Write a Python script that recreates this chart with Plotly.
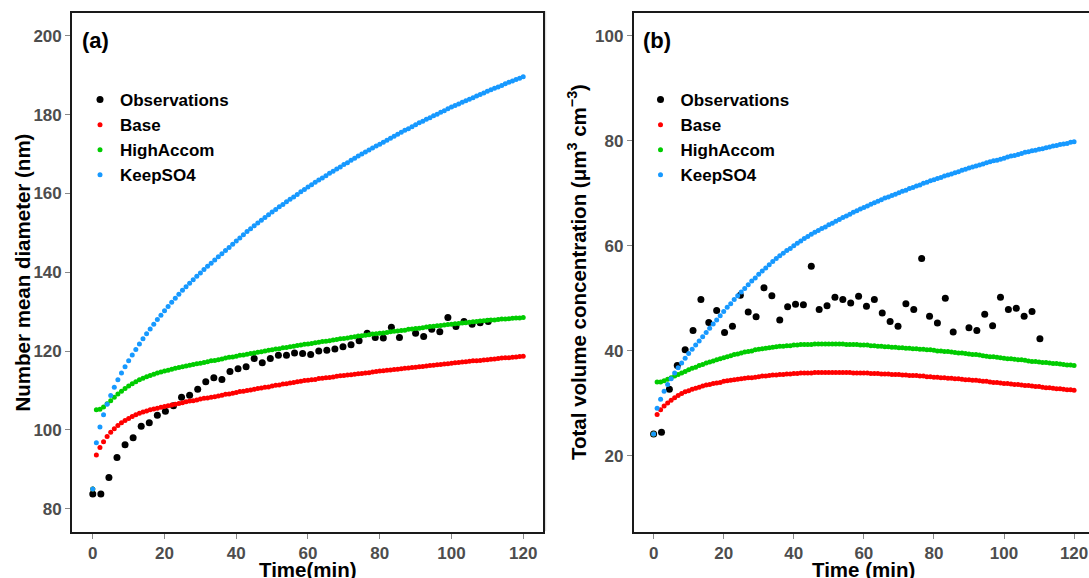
import plotly.graph_objects as go

W, H = 1089, 578

# ---------------- data ----------------
model_time = list(range(0, 121))
obs_time = [0, 2.25, 4.5, 6.75, 9, 11.25, 13.5, 15.75, 18, 20.25,
            22.5, 24.75, 27, 29.25, 31.5, 33.75, 36, 38.25, 40.5, 42.75,
            45, 47.25, 49.5, 51.75, 54, 56.25, 58.5, 60.75, 63, 65.25,
            67.5, 69.75, 72, 74.25, 76.5, 78.75, 81, 83.25, 85.5, 87.75,
            90, 92.25, 94.5, 96.75, 99, 101.25, 103.5, 105.75, 108, 110.25]

# panel (a): number mean diameter (nm)
obs_a = [83.7, 83.7, 87.9, 93.0, 96.2, 98.0, 100.9, 101.8, 103.7, 104.7,
         106.1, 108.3, 108.8, 110.3, 112.2, 113.2, 112.8, 114.8, 115.5, 116.0,
         118.1, 117.0, 118.1, 118.9, 118.9, 119.5, 119.4, 119.1, 120.0, 120.2,
         120.5, 121.1, 121.6, 122.6, 124.5, 123.4, 123.3, 126.0, 123.4, None,
         124.5, 123.7, 125.5, 124.9, 128.5, 126.2, 127.5, 126.8, 127.2, 127.5]

base_a = [85.0, 93.6, 95.5, 97.0, 98.3, 99.4, 100.3, 101.1, 101.8, 102.4,
          102.9, 103.4, 103.8, 104.2, 104.5, 104.8, 105.1, 105.3, 105.5, 105.7,
          105.9, 106.1, 106.3, 106.5, 106.7, 106.9, 107.1, 107.3, 107.4, 107.6,
          107.8, 108.0, 108.1, 108.3, 108.4, 108.6, 108.8, 109.0, 109.1, 109.3,
          109.5, 109.7, 109.8, 110.0, 110.1, 110.3, 110.5, 110.6, 110.8, 110.9,
          111.1, 111.3, 111.4, 111.6, 111.7, 111.9, 112.0, 112.2, 112.3, 112.5,
          112.6, 112.7, 112.8, 113.0, 113.1, 113.2, 113.3, 113.4, 113.6, 113.7,
          113.8, 113.9, 114.0, 114.1, 114.2, 114.3, 114.4, 114.5, 114.7, 114.8,
          114.9, 115.0, 115.1, 115.2, 115.3, 115.4, 115.5, 115.6, 115.7, 115.8,
          115.9, 116.0, 116.1, 116.2, 116.3, 116.4, 116.5, 116.6, 116.7, 116.8,
          116.9, 117.0, 117.1, 117.2, 117.3, 117.4, 117.5, 117.5, 117.6, 117.7,
          117.8, 117.9, 118.0, 118.1, 118.2, 118.3, 118.3, 118.4, 118.5, 118.6,
          118.7]

highaccom_a = [85.0, 105.1, 105.2, 105.8, 106.6, 107.4, 108.3, 109.1, 109.8, 110.5,
               111.1, 111.7, 112.2, 112.7, 113.1, 113.5, 113.8, 114.1, 114.4, 114.7,
               114.9, 115.1, 115.4, 115.6, 115.8, 116.0, 116.2, 116.4, 116.6, 116.8,
               116.9, 117.1, 117.3, 117.5, 117.6, 117.8, 118.0, 118.2, 118.4, 118.5,
               118.7, 118.9, 119.0, 119.2, 119.4, 119.5, 119.7, 119.8, 120.0, 120.2,
               120.3, 120.5, 120.6, 120.8, 120.9, 121.1, 121.2, 121.4, 121.5, 121.7,
               121.8, 121.9, 122.1, 122.2, 122.4, 122.5, 122.6, 122.8, 122.9, 123.1,
               123.2, 123.3, 123.5, 123.6, 123.8, 123.9, 124.0, 124.1, 124.3, 124.4,
               124.5, 124.6, 124.7, 124.9, 125.0, 125.1, 125.2, 125.3, 125.5, 125.6,
               125.7, 125.8, 125.9, 126.1, 126.2, 126.3, 126.4, 126.5, 126.6, 126.7,
               126.8, 126.9, 127.0, 127.1, 127.2, 127.3, 127.4, 127.5, 127.6, 127.7,
               127.8, 127.9, 127.9, 128.0, 128.1, 128.1, 128.2, 128.3, 128.4, 128.4,
               128.5]

keepso4_a = [85.0, 96.7, 100.7, 103.8, 106.5, 108.7, 110.8, 112.7, 114.4, 116.0,
             117.5, 119.0, 120.4, 121.8, 123.1, 124.4, 125.6, 126.8, 128.0, 129.1,
             130.2, 131.3, 132.4, 133.4, 134.4, 135.4, 136.3, 137.2, 138.1, 139.0,
             139.8, 140.7, 141.5, 142.3, 143.1, 143.9, 144.7, 145.5, 146.3, 147.1,
             147.9, 148.7, 149.5, 150.3, 151.0, 151.8, 152.5, 153.2, 153.9, 154.6,
             155.3, 155.9, 156.6, 157.2, 157.9, 158.5, 159.1, 159.7, 160.4, 161.0,
             161.6, 162.2, 162.8, 163.4, 163.9, 164.5, 165.1, 165.6, 166.2, 166.7,
             167.3, 167.8, 168.4, 168.9, 169.5, 170.0, 170.5, 171.0, 171.5, 172.0,
             172.5, 173.0, 173.5, 174.0, 174.5, 175.0, 175.5, 176.0, 176.4, 176.9,
             177.4, 177.9, 178.3, 178.8, 179.2, 179.7, 180.1, 180.6, 181.0, 181.5,
             181.9, 182.3, 182.7, 183.1, 183.5, 183.9, 184.3, 184.7, 185.1, 185.5,
             185.9, 186.3, 186.7, 187.0, 187.4, 187.8, 188.2, 188.5, 188.9, 189.2,
             189.6]

# panel (b): total volume concentration (um3 cm-3)
obs_b = [24.2, 24.5, 32.7, 37.2, 40.2, 43.9, 49.8, 45.4, 47.7, 43.5,
         44.7, 50.6, 47.4, 46.5, 52.0, 50.5, 45.9, 48.4, 48.9, 48.8,
         56.1, 47.9, 48.6, 50.2, 49.8, 49.1, 50.4, 48.5, 49.8, 47.2,
         45.6, 44.7, 49.0, 47.9, 57.6, 46.6, 45.3, 50.0, 43.6, None,
         44.4, 43.9, 47.0, 44.8, 50.2, 47.9, 48.1, 46.6, 47.5, 42.3]

base_b = [24.2, 27.9, 28.8, 29.5, 30.1, 30.6, 31.1, 31.5, 31.9, 32.2,
          32.4, 32.7, 32.9, 33.1, 33.3, 33.5, 33.6, 33.8, 33.9, 34.0,
          34.2, 34.3, 34.4, 34.5, 34.6, 34.7, 34.8, 34.9, 34.9, 35.0,
          35.1, 35.2, 35.2, 35.3, 35.4, 35.4, 35.5, 35.5, 35.6, 35.6,
          35.7, 35.7, 35.8, 35.8, 35.8, 35.8, 35.9, 35.9, 35.9, 35.9,
          35.9, 35.9, 35.9, 35.9, 35.9, 35.9, 35.9, 35.8, 35.8, 35.8,
          35.8, 35.8, 35.7, 35.7, 35.7, 35.6, 35.6, 35.6, 35.5, 35.5,
          35.5, 35.4, 35.4, 35.3, 35.3, 35.3, 35.2, 35.2, 35.1, 35.1,
          35.0, 35.0, 34.9, 34.9, 34.8, 34.8, 34.7, 34.7, 34.6, 34.5,
          34.5, 34.4, 34.4, 34.3, 34.2, 34.2, 34.1, 34.0, 34.0, 33.9,
          33.8, 33.8, 33.7, 33.6, 33.6, 33.5, 33.4, 33.4, 33.3, 33.2,
          33.2, 33.1, 33.0, 33.0, 32.9, 32.8, 32.8, 32.7, 32.6, 32.6,
          32.5]

highaccom_b = [24.2, 34.1, 34.1, 34.3, 34.6, 34.9, 35.2, 35.5, 35.8, 36.1,
               36.4, 36.7, 36.9, 37.2, 37.4, 37.7, 37.9, 38.1, 38.3, 38.5,
               38.7, 38.9, 39.1, 39.3, 39.4, 39.6, 39.8, 39.9, 40.0, 40.2,
               40.3, 40.4, 40.5, 40.6, 40.7, 40.8, 40.9, 40.9, 41.0, 41.0,
               41.1, 41.1, 41.2, 41.2, 41.2, 41.2, 41.3, 41.3, 41.3, 41.3,
               41.3, 41.3, 41.3, 41.3, 41.3, 41.2, 41.2, 41.2, 41.2, 41.1,
               41.1, 41.1, 41.0, 41.0, 40.9, 40.9, 40.8, 40.8, 40.7, 40.7,
               40.6, 40.6, 40.5, 40.5, 40.4, 40.4, 40.3, 40.3, 40.2, 40.2,
               40.1, 40.0, 40.0, 39.9, 39.9, 39.8, 39.7, 39.6, 39.6, 39.5,
               39.4, 39.3, 39.3, 39.2, 39.1, 39.0, 38.9, 38.9, 38.8, 38.7,
               38.6, 38.5, 38.5, 38.4, 38.3, 38.3, 38.2, 38.1, 38.0, 38.0,
               37.9, 37.8, 37.8, 37.7, 37.6, 37.6, 37.5, 37.4, 37.3, 37.3,
               37.2]

keepso4_b = [24.2, 29.1, 30.8, 32.3, 33.6, 34.7, 35.8, 36.8, 37.7, 38.6,
             39.5, 40.3, 41.1, 41.9, 42.7, 43.5, 44.3, 45.1, 45.9, 46.7,
             47.5, 48.3, 49.0, 49.8, 50.5, 51.2, 51.9, 52.6, 53.3, 53.9,
             54.6, 55.2, 55.8, 56.4, 57.0, 57.6, 58.1, 58.6, 59.1, 59.5,
             60.0, 60.5, 60.9, 61.4, 61.8, 62.2, 62.6, 62.9, 63.3, 63.6,
             64.0, 64.3, 64.7, 65.0, 65.4, 65.7, 66.0, 66.4, 66.7, 67.0,
             67.3, 67.6, 67.9, 68.2, 68.5, 68.8, 69.1, 69.3, 69.6, 69.8,
             70.1, 70.4, 70.6, 70.9, 71.1, 71.4, 71.6, 71.9, 72.1, 72.4,
             72.6, 72.8, 73.0, 73.3, 73.5, 73.7, 73.9, 74.1, 74.4, 74.6,
             74.8, 75.0, 75.2, 75.4, 75.6, 75.8, 76.0, 76.2, 76.3, 76.5,
             76.7, 76.9, 77.1, 77.2, 77.4, 77.6, 77.8, 77.9, 78.1, 78.2,
             78.4, 78.5, 78.7, 78.8, 79.0, 79.1, 79.3, 79.4, 79.5, 79.7,
             79.8]

series_names = ["Observations", "Base", "HighAccom", "KeepSO4"]
x_ticks = [0, 20, 40, 60, 80, 100, 120]
y_ticks_a = [80, 100, 120, 140, 160, 180, 200]
y_ticks_b = [20, 40, 60, 80, 100]

for s in (base_a, highaccom_a, keepso4_a, base_b, highaccom_b, keepso4_b):
    assert len(s) == len(model_time), len(s)
assert len(obs_a) == len(obs_time) and len(obs_b) == len(obs_time)

# ---------------- style ----------------
FONT = "Liberation Sans, Arial, sans-serif"
colors = {"Observations": "#000000", "Base": "#ff0000",
          "HighAccom": "#00cc00", "KeepSO4": "#1799ff"}
sizes = {"Observations": 7, "Base": 5, "HighAccom": 5, "KeepSO4": 5}

def px_x(p):
    return p / W

def px_y(p):
    return 1 - p / H

fig = go.Figure()

panels = [
    ("x", "y", "legend", [obs_a, base_a, highaccom_a, keepso4_a]),
    ("x2", "y2", "legend2", [obs_b, base_b, highaccom_b, keepso4_b]),
]
for xa, ya, lg, data in panels:
    for name, vals in zip(series_names, data):
        xs = obs_time if name == "Observations" else model_time
        fig.add_trace(go.Scatter(
            x=xs, y=vals, mode="markers", name=name,
            marker=dict(color=colors[name], size=sizes[name], line=dict(width=0)),
            xaxis=xa, yaxis=ya, legend=lg, showlegend=True,
        ))

tickfont = dict(family=FONT, size=17, color="#4d4d4d", weight="bold")
common_axis = dict(showgrid=False, zeroline=False, showline=True,
                   linecolor="#1a1a1a", linewidth=1.5,
                   ticks="outside", ticklen=5, tickwidth=1, tickcolor="#888888",
                   tickfont=tickfont, automargin=False)

yd = [px_y(531.9), px_y(12.9)]
legend_font = dict(family=FONT, size=17, color="#000000", weight="bold")
fig.update_layout(
    width=W, height=H, autosize=False,
    margin=dict(l=0, r=0, t=0, b=0),
    paper_bgcolor="white", plot_bgcolor="white",
    xaxis=dict(domain=[px_x(71.9), px_x(543.3)], range=[-5.82, 125.6],
               tickvals=x_ticks, mirror=True, anchor="y", **common_axis),
    yaxis=dict(domain=yd, range=[74.1, 205.8], tickvals=y_ticks_a,
               mirror=True, anchor="x", **common_axis),
    xaxis2=dict(domain=[px_x(633.5), 1.0], range=[-5.74, 124.26],
                tickvals=x_ticks, mirror=True, anchor="y2", **common_axis),
    yaxis2=dict(domain=yd, range=[5.54, 104.35], tickvals=y_ticks_b,
                mirror=False, anchor="x2", **common_axis),
    legend=dict(x=px_x(80), y=px_y(82), xanchor="left", yanchor="top",
                bgcolor="rgba(0,0,0,0)", borderwidth=0, font=legend_font),
    legend2=dict(x=px_x(640.5), y=px_y(82), xanchor="left", yanchor="top",
                 bgcolor="rgba(0,0,0,0)", borderwidth=0, font=legend_font),
    showlegend=True,
)

title_font = dict(family=FONT, size=20.5, color="#000000", weight="bold")
annotations = [
    dict(text="(a)", x=px_x(95.5), y=px_y(40.5), font=dict(family=FONT, size=22, color="#000", weight="bold")),
    dict(text="(b)", x=px_x(657.3), y=px_y(40.5), font=dict(family=FONT, size=22, color="#000", weight="bold")),
    dict(text="Number mean diameter (nm)", x=px_x(22), y=px_y(272.5), textangle=-90, font=title_font),
    dict(text="Total volume concentration (μm<sup>3</sup> cm<sup>−3</sup>)", x=px_x(576.5), y=px_y(272.5),
         textangle=-90, font=title_font),
    dict(text="Time(min)", x=px_x(307.6), y=px_y(569.5), font=title_font),
    dict(text="Time (min)", x=px_x(863.5), y=px_y(569.5), font=title_font),
]
for a in annotations:
    a.update(xref="paper", yref="paper", showarrow=False, xanchor="center", yanchor="middle")
fig.update_layout(annotations=annotations)

# light separator between the two panels
fig.add_shape(type="line", xref="paper", yref="paper",
              x0=px_x(545.7), x1=px_x(545.7), y0=px_y(531), y1=px_y(11),
              line=dict(color="#d9d9d9", width=1))

fig.write_html("out.html",
               config={"displayModeBar": False},
               post_script="document.body.style.margin='0';document.body.style.overflow='hidden';")
